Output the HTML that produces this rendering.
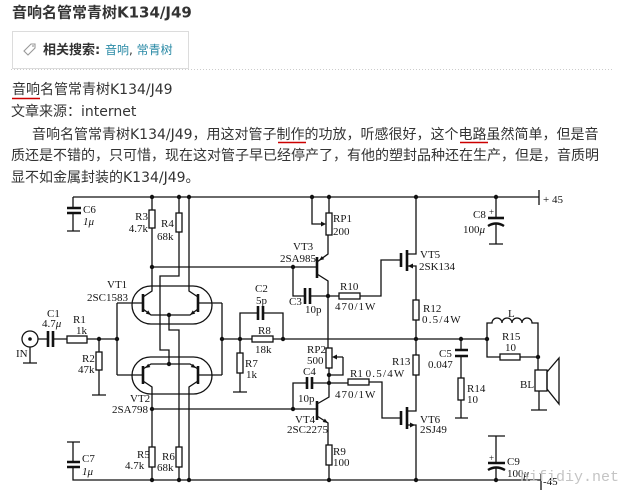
<!DOCTYPE html>
<html><head><meta charset="utf-8"><style>
html,body{margin:0;padding:0;background:#fff;}
body{width:633px;height:496px;overflow:hidden;position:relative;}
svg{position:absolute;left:0;top:0;}
.w{stroke:#111;stroke-width:1.3;fill:none;stroke-linejoin:miter;}
.p{stroke:#111;stroke-width:2.6;fill:none;}
.r{stroke:#111;stroke-width:1.3;fill:#fff;}
.d{fill:#111;}
.t{font-family:"Liberation Serif",serif;font-size:11px;fill:#151515;}
.h{font-family:"DejaVu Sans","Noto Sans CJK SC",sans-serif;fill:#333;}
</style></head><body>
<svg width="633" height="496" viewBox="0 0 633 496" xmlns="http://www.w3.org/2000/svg">
<!-- header -->
<text class="h" x="12" y="17.5" font-size="15" font-weight="bold">音响名管常青树K134/J49</text>
<rect x="12.5" y="31.5" width="176" height="37" fill="#fff" stroke="#dcdcdc"/>
<path d="M24,51 L31,44 L35,44 L35,48 L28,55 Z" fill="none" stroke="#999" stroke-width="1.1"/>
<circle cx="33" cy="46" r="0.9" fill="#999"/>
<text class="h" x="43" y="54" font-size="13" font-weight="bold">相关搜索:</text>
<text class="h" x="105" y="54" font-size="12" style="fill:#2a8aa6">音响<tspan style="fill:#333">, </tspan>常青树</text>
<line x1="11" y1="69.5" x2="614" y2="69.5" stroke="#ccc" stroke-dasharray="1,2"/>
<text class="h" x="12" y="94" font-size="14">音响名管常青树K134/J49</text>
<line x1="12" y1="98.5" x2="40" y2="98.5" stroke="#c00" stroke-width="1.4"/>
<text class="h" x="11" y="116" font-size="14">文章来源：internet</text>
<text class="h" x="32" y="139" font-size="14">音响名管常青树K134/J49，用这对管子制作的功放，听感很好，这个电路虽然简单，但是音</text>
<line x1="278" y1="142.5" x2="306" y2="142.5" stroke="#c00" stroke-width="1.4"/>
<line x1="460" y1="142.5" x2="488" y2="142.5" stroke="#c00" stroke-width="1.4"/>
<text class="h" x="11" y="160" font-size="14">质还是不错的，只可惜，现在这对管子早已经停产了，有他的塑封品种还在生产，但是，音质明</text>
<text class="h" x="11" y="182" font-size="14">显不如金属封装的K134/J49。</text>

<!-- top rail & C6 -->
<path class="w" d="M73,197 H539 M539,190 V205 M73,197 V208 M73,213 V231 M67,231 H80"/>
<path class="p" d="M67,208 H81 M67,213 H81"/>
<!-- R3, R4, x189 -->
<path class="w" d="M152,197 V210 M152,228 V291 L143,297 M152,267 H317"/>
<rect class="r" x="149" y="210" width="6" height="18"/>
<path class="w" d="M179,197 V213 M179,232 V276 H160 V350 H169 V364"/>
<rect class="r" x="176" y="213" width="6" height="19"/>
<path class="w" d="M169,315 V330 H179 V447 M179,467 V480"/>
<rect class="r" x="176" y="447" width="6" height="20"/>
<path class="w" d="M189,197 V291 L198,297"/>
<!-- VT1 -->
<rect x="132" y="286" width="80" height="38" rx="19" class="w"/>
<path class="p" d="M143,294 V312 M198,294 V312"/>
<path class="w" d="M117,303 H143 M222,303 H198 M143,309 L151,315 H190 L198,309"/>
<polygon class="d" points="151,315 145.8,313.6 148.2,310.4"/>
<polygon class="d" points="190,315 195.2,313.6 192.8,310.4"/>
<!-- VT2 -->
<rect x="132" y="357" width="80" height="37" rx="18.5" class="w"/>
<path class="p" d="M143,366 V384 M198,366 V384"/>
<path class="w" d="M117,375 H143 M222,375 H198 M143,369 L151,364 H190 L198,369 M143,381 L152,387 V447 M152,467 V480 M198,381 L189,387 V480"/>
<rect class="r" x="149" y="447" width="6" height="20"/>
<polygon class="d" points="145,368 148.2,363.7 150.3,367.1"/>
<polygon class="d" points="196,368 192.9,363.7 190.7,367.1"/>
<path class="w" d="M117,303 V375 M222,303 V375 M152,409 H317"/>
<!-- input -->
<circle cx="30" cy="339" r="8" class="w"/>
<circle cx="30" cy="339" r="1.8" class="d"/>
<path class="w" d="M38,339 H48 M53,339 H67 M87,339 H117 M99,339 V352 M99,370 V395 M92,395 H106 M30,347 V363 M23,363 H37"/>
<path class="p" d="M48,331 V347 M53,331 V347"/>
<rect class="r" x="67" y="336" width="20" height="7"/>
<rect class="r" x="96" y="352" width="6" height="18"/>
<!-- R8 C2 R7 -->
<path class="w" d="M222,339 H252 M273,339 H487 M240,339 V313 H258 M263,313 H283 V339 M240,339 V353 M240,373 V392 M233,392 H247"/>
<rect class="r" x="252" y="336" width="21" height="6"/>
<path class="p" d="M258,306 V320 M263,306 V320"/>
<rect class="r" x="237" y="353" width="6" height="20"/>
<!-- VT3, RP1, C3, R10 -->
<path class="p" d="M317,257 V278"/>
<path class="w" d="M317,262 L328,254 V235 M317,274 L328,281 V348 M329,197 V213 M312,197 V224 H322"/>
<polygon class="d" points="319,260.5 324.2,259.2 321.8,256"/>
<polygon class="d" points="326,224 321,221.5 321,226.5"/>
<rect class="r" x="326" y="213" width="6" height="22"/>
<path class="w" d="M293,267 V296 H305 M310,296 H339 M360,296 H381 V260 H401"/>
<path class="p" d="M305,288 V304 M310,288 V304"/>
<rect class="r" x="339" y="293" width="21" height="6"/>
<!-- VT5 -->
<path class="p" d="M401,253 V267 M407,250 V271"/>
<path class="w" d="M407,254 H416 V197 M407,266 H416 V300 M416,320 V339"/>
<polygon class="d" points="408,266 413,263.5 413,268.5"/>
<rect class="r" x="413" y="300" width="6" height="20"/>
<!-- C8 -->
<path class="w" d="M496,197 V218 M496,224 V244 M489,244 H503"/>
<path class="p" d="M488,218 H504"/>
<path d="M488,226 Q496,221 504,226" stroke="#111" stroke-width="2.4" fill="none"/>
<!-- RP2, C4, R11, VT4 -->
<rect class="r" x="326" y="348" width="6" height="20"/>
<path class="w" d="M329,368 V397 L317,404 M343,357 H335 M343,357 V375 H329 M329,383 H312 M307,383 H293 V409 M329,383 H348 M369,382 H382 V418 H401"/>
<polygon class="d" points="332,357 337,354.5 337,359.5"/>
<path class="p" d="M312,377 V389 M307,377 V389 M317,401 V420"/>
<rect class="r" x="348" y="379" width="21" height="6"/>
<path class="w" d="M317,416 L328,423 V445 M329,465 V480"/>
<polygon class="d" points="328,423 322.7,422 324.9,418.6"/>
<rect class="r" x="326" y="445" width="6" height="20"/>
<!-- R13, VT6 -->
<path class="w" d="M416,339 V355 M416,375 V411 H407 M407,425 H416 V480"/>
<rect class="r" x="413" y="355" width="6" height="20"/>
<path class="p" d="M401,411 V425 M407,407 V429"/>
<polygon class="d" points="415,425 410,422.5 410,427.5"/>
<!-- output network -->
<path class="w" d="M487,339 V323 H492 a5,5 0 0 1 10,0 a5,5 0 0 1 10,0 a5,5 0 0 1 10,0 a5,5 0 0 1 10,0 H538 V370 M487,339 V357 H500 M520,357 H538 M539,391 V410 M531,410 H547"/>
<rect class="r" x="500" y="354" width="20" height="6"/>
<rect class="r" x="535" y="370" width="12" height="21"/>
<polygon points="547,372 559,358 559,404 547,389" class="w"/>
<path class="w" d="M461,339 V350 M461,356 V378 M461,400 V418 M455,418 H468"/>
<path class="p" d="M455,350 H468 M455,356 H468"/>
<rect class="r" x="458" y="378" width="6" height="22"/>
<!-- C7, bottom rail, C9 -->
<path class="w" d="M67,442 H80 M73,442 V462 M73,467 V480 H541 M541,473 V490"/>
<path class="p" d="M67,462 H80 M67,467 H80"/>
<path class="w" d="M488,436 H505 M496,436 V463 M496,468 V480"/>
<path class="p" d="M488,463 H505"/>
<path d="M488,470 Q496,465 505,470" stroke="#111" stroke-width="2.4" fill="none"/>
<!-- dots -->
<g class="d">
<circle cx="152" cy="197" r="2.2"/><circle cx="179" cy="197" r="2.2"/><circle cx="189" cy="197" r="2.2"/>
<circle cx="312" cy="197" r="2.2"/><circle cx="329" cy="197" r="2.2"/><circle cx="416" cy="197" r="2.2"/><circle cx="496" cy="197" r="2.2"/>
<circle cx="152" cy="267" r="2.2"/><circle cx="293" cy="267" r="2.2"/><circle cx="328" cy="296" r="2.2"/>
<circle cx="169" cy="315" r="2.2"/><circle cx="169" cy="364" r="2.2"/>
<circle cx="99" cy="339" r="2.2"/><circle cx="117" cy="339" r="2.2"/><circle cx="222" cy="339" r="2.2"/><circle cx="240" cy="339" r="2.2"/><circle cx="283" cy="339" r="2.2"/>
<circle cx="416" cy="339" r="2.2"/><circle cx="461" cy="339" r="2.2"/><circle cx="487" cy="339" r="2.2"/><circle cx="538" cy="357" r="2.2"/>
<circle cx="329" cy="375" r="2.2"/><circle cx="329" cy="383" r="2.2"/>
<circle cx="152" cy="409" r="2.2"/><circle cx="293" cy="409" r="2.2"/>
<circle cx="152" cy="480" r="2.2"/><circle cx="179" cy="480" r="2.2"/><circle cx="189" cy="480" r="2.2"/><circle cx="329" cy="480" r="2.2"/><circle cx="416" cy="480" r="2.2"/><circle cx="496" cy="480" r="2.2"/>
</g>
<!-- labels -->
<g class="t">
<text x="83" y="213">C6</text><text x="83" y="225" font-style="italic">1μ</text>
<text x="148" y="220" text-anchor="end">R3</text><text x="148" y="232" text-anchor="end">4.7k</text>
<text x="161" y="227">R4</text><text x="157" y="240">68k</text>
<text x="107" y="288">VT1</text><text x="87" y="301">2SC1583</text>
<text x="47" y="317">C1</text><text x="42" y="327">4.7<tspan font-style="italic">μ</tspan></text>
<text x="73" y="323">R1</text><text x="76" y="334">1k</text>
<text x="16" y="357">IN</text>
<text x="82" y="362">R2</text><text x="78" y="373">47k</text>
<text x="255" y="292">C2</text><text x="256" y="304">5p</text>
<text x="258" y="334">R8</text><text x="255" y="353">18k</text>
<text x="245" y="367">R7</text><text x="246" y="378">1k</text>
<text x="130" y="402">VT2</text><text x="112" y="413">2SA798</text>
<text x="137" y="458">R5</text><text x="125" y="469">4.7k</text>
<text x="162" y="460">R6</text><text x="157" y="471">68k</text>
<text x="82" y="462">C7</text><text x="82" y="475" font-style="italic">1μ</text>
<text x="333" y="222">RP1</text><text x="333" y="235">200</text>
<text x="293" y="250">VT3</text><text x="280" y="262">2SA985</text>
<text x="289" y="305">C3</text><text x="305" y="313">10p</text>
<text x="340" y="290">R10</text><text x="335" y="310" letter-spacing="1">470/1W</text>
<text x="420" y="258">VT5</text><text x="419" y="270">2SK134</text>
<text x="473" y="218">C8</text><text x="489" y="215" font-size="9">+</text><text x="463" y="233">100<tspan font-style="italic">μ</tspan></text>
<text x="543" y="203">+ 45</text>
<text x="423" y="312">R12</text><text x="422" y="323" letter-spacing="1.2">0.5/4W</text>
<text x="508" y="317">L</text>
<text x="502" y="340">R15</text><text x="505" y="351">10</text>
<text x="307" y="353">RP2</text><text x="307" y="364">500</text>
<text x="303" y="375">C4</text><text x="298" y="402">10p</text>
<text x="392" y="365">R13</text>
<text x="350" y="377">R1 <tspan letter-spacing="1.2">0.5/4W</tspan></text>
<text x="335" y="398" letter-spacing="1">470/1W</text>
<text x="439" y="357">C5</text><text x="428" y="368">0.047</text>
<text x="467" y="392">R14</text><text x="467" y="403">10</text>
<text x="520" y="388">BL</text>
<text x="295" y="423">VT4</text><text x="287" y="433">2SC2275</text>
<text x="420" y="423">VT6</text><text x="420" y="433">2SJ49</text>
<text x="333" y="455">R9</text><text x="333" y="466">100</text>
<text x="507" y="465">C9</text><text x="489" y="461" font-size="9">+</text><text x="507" y="477">100<tspan font-style="italic">μ</tspan></text>
<text x="543" y="485">-45</text>
</g>
<text x="520" y="481" font-family="Liberation Mono, monospace" font-size="15" fill="#c4c4c4">hifidiy.net</text>
</svg>
</body></html>
